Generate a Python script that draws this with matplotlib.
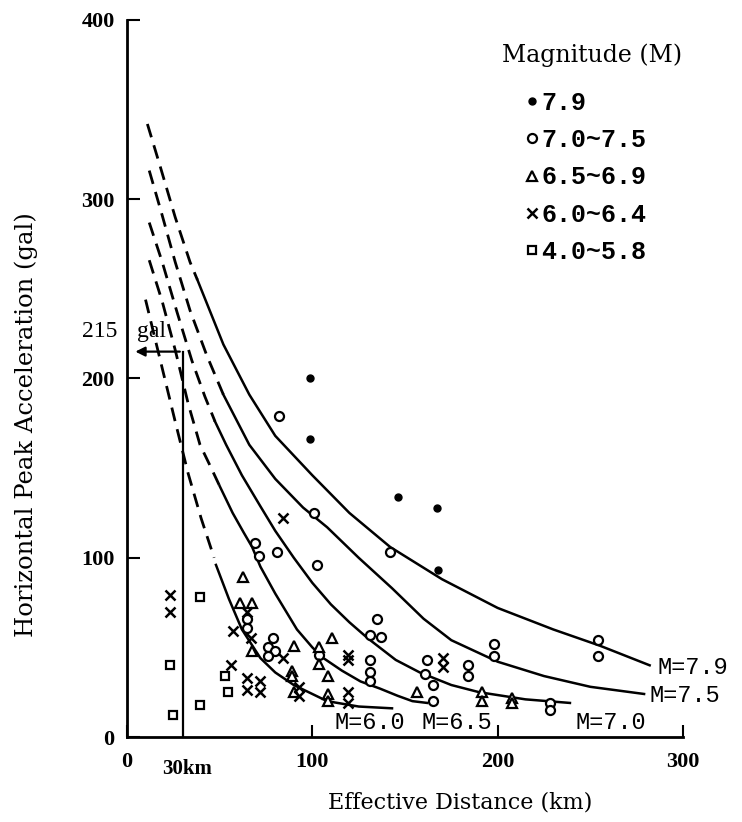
import matplotlib
matplotlib.use("Agg")
import matplotlib.pyplot as plt

plt.rcParams['font.family'] = ['Liberation Serif', 'DejaVu Serif']

# observed peak accelerations (distance km, gal) by magnitude group
m79_x = [99, 99, 146, 167, 168]
m79_y = [200, 166, 134, 128, 93]

m70_x = [82, 101, 142, 81, 102.5, 69, 71, 135, 131, 137, 198, 198, 254, 254, 184, 184,
         79, 76, 80, 76, 103.5, 131, 131, 131, 162, 161, 165, 165, 65, 65, 228, 228]
m70_y = [179, 125, 103, 103, 96, 108, 101, 66, 57, 56, 52, 45, 54, 45, 40, 34,
         55, 50, 48, 45, 46, 43, 36, 31, 43, 35, 29, 20, 66, 61, 19, 15]

m65_x = [62.6, 61, 67.5, 67.5, 90, 110.6, 103.6, 103.6, 108.5, 89, 89, 90, 108.5, 108.5,
         156.5, 191.6, 191.6, 208, 208]
m65_y = [89, 75, 75, 48, 51, 55, 50, 41, 34, 37, 34, 25, 24, 20,
         25, 25, 20, 22, 19]

m60_x = [84, 23, 23, 65, 67, 57, 56, 64.5, 64.5, 72, 72, 84, 93, 93, 119, 119, 170.5, 170.5, 119, 119]
m60_y = [122, 79, 70, 70, 55, 59, 40, 33, 26, 31, 25, 44, 28, 23, 46, 43, 44, 39, 25, 19]

m40_x = [39.4, 23, 39.4, 25, 53, 54.5]
m40_y = [78, 40, 18, 12, 34, 25]

# attenuation curves: dashed (near field) and solid parts
c79_dash_x = [11, 18, 26, 34, 38]
c79_dash_y = [342, 318, 290, 265, 255]
c79_x = [38, 52, 66, 80, 100, 120, 142, 170, 200, 230, 255, 282]
c79_y = [255, 219, 191, 168, 146, 125, 106, 88, 72, 60, 51, 40]

c75_dash_x = [12, 19, 26, 34, 43, 52]
c75_dash_y = [316, 291, 265, 238, 213, 191]
c75_x = [52, 66, 80, 95, 108, 125, 143, 160, 175, 200, 225, 250, 279]
c75_y = [191, 163, 144, 128, 117, 100, 83, 66, 54, 42, 34, 28, 24]

c70_dash_x = [12, 19, 27, 35, 42, 47.5]
c70_dash_y = [287, 265, 237, 210, 190, 176]
c70_x = [47.5, 53.5, 62, 71.8, 80, 90, 100, 110, 120, 130, 145, 158, 175, 190, 215, 239]
c70_y = [176, 163, 146, 129, 115, 100, 86, 74, 64, 55, 43, 36, 29, 25, 21, 19]

c65_dash_x = [12, 19, 26, 33, 39.4, 45, 50]
c65_dash_y = [266, 243, 216, 186, 163, 151, 140]
c65_x = [50, 57, 63, 67.5, 72, 80, 91.7, 100, 106, 116, 126, 136.5, 146, 154, 162]
c65_y = [140, 125, 114, 106, 95, 80, 60, 50, 44, 37, 31, 27, 23, 20, 19]

c60_dash_x = [10, 18, 26, 33, 40, 47]
c60_dash_y = [244, 210, 176, 147, 122, 100]
c60_x = [48, 55, 62, 72, 80, 90, 100, 108, 125, 143]
c60_y = [96, 77, 60, 44, 36, 29, 24, 20, 17, 16]

curve_names = ['M=7.9', 'M=7.5', 'M=7.0', 'M=6.0', 'M=6.5']
legend_labels = ['7.9', '7.0~7.5', '6.5~6.9', '6.0~6.4', '4.0~5.8']

fig = plt.figure(figsize=(7.42, 8.22), dpi=100)
ax = fig.add_axes([127/742, 85/822, (683-127)/742, (802-85)/822])
ax.set_xlim(0, 300)
ax.set_ylim(0, 400)

dash = (0, (5, 3))
for dx, dy, sx, sy in [(c79_dash_x, c79_dash_y, c79_x, c79_y),
                       (c75_dash_x, c75_dash_y, c75_x, c75_y),
                       (c70_dash_x, c70_dash_y, c70_x, c70_y),
                       (c65_dash_x, c65_dash_y, c65_x, c65_y),
                       (c60_dash_x, c60_dash_y, c60_x, c60_y)]:
    ax.plot(dx, dy, color='black', lw=2.0, linestyle=dash)
    ax.plot(sx, sy, color='black', lw=1.8)

h1, = ax.plot(m79_x, m79_y, 'o', ms=5, color='black', ls='none')
h2, = ax.plot(m70_x, m70_y, 'o', ms=6.5, mfc='white', mec='black', mew=1.6, ls='none')
h3, = ax.plot(m65_x, m65_y, '^', ms=7, mfc='white', mec='black', mew=1.6, ls='none')
h4, = ax.plot(m60_x, m60_y, 'x', ms=6.5, mec='black', mew=1.8, ls='none')
h5, = ax.plot(m40_x, m40_y, 's', ms=6, mfc='white', mec='black', mew=1.6, ls='none')

# 215 gal at 30 km marker
ax.plot([30, 30], [0, 215], color='black', lw=1.6)
ax.annotate('', xy=(3, 215), xytext=(30, 215),
            arrowprops=dict(arrowstyle='-|>', color='black', lw=1.6, mutation_scale=14))
ax.text(-24.5, 226, '215', fontsize=17, ha='left', va='center', clip_on=False)
ax.text(5.5, 226, 'gal', fontsize=17, ha='left', va='center', clip_on=False)

# curve labels
lab_x = [286, 282, 261, 131, 178]
lab_y = [39, 23, 8, 8, 8]
for name, lx, ly in zip(curve_names, lab_x, lab_y):
    ax.text(lx, ly, name, fontsize=17, family='Liberation Mono',
            ha='left' if ly > 15 else 'center', va='center', clip_on=False)

ax.spines['top'].set_visible(False)
ax.spines['right'].set_visible(False)
ax.spines['left'].set_linewidth(2)
ax.spines['bottom'].set_linewidth(2)

ax.set_yticks([0, 100, 200, 300, 400])
ax.set_xticks([0, 100, 200, 300])
ax.tick_params(direction='in', length=9, width=1.5, labelsize=16)
ax.tick_params(axis='y', pad=9)
ax.tick_params(axis='x', pad=11)
for t in ax.get_xticklabels() + ax.get_yticklabels():
    t.set_fontweight('bold')
ax.text(19, -12, '30km', fontsize=15, fontweight='bold', ha='left', va='top', clip_on=False)

fig.text(460/742, 1 - 802/822, 'Effective Distance (km)', fontsize=16,
         family='DejaVu Serif', ha='center', va='center')
fig.text(26/742, 1 - 425/822, 'Horizontal Peak Acceleration (gal)', fontsize=17.5,
         family='DejaVu Serif', ha='center', va='center', rotation=90)

fig.text(592/742, 1 - 55/822, 'Magnitude (M)', fontsize=17,
         family='DejaVu Serif', ha='center', va='center')
leg = fig.legend([h1, h2, h3, h4, h5], legend_labels, loc='upper left',
                 bbox_to_anchor=(519/742, 1 - 86/822), frameon=False,
                 handlelength=0.6, handletextpad=0.1, labelspacing=0.53,
                 borderpad=0.2, borderaxespad=0,
                 prop={'family': 'Liberation Mono', 'weight': 'bold', 'size': 18})

fig.savefig('out.png', dpi=100)
